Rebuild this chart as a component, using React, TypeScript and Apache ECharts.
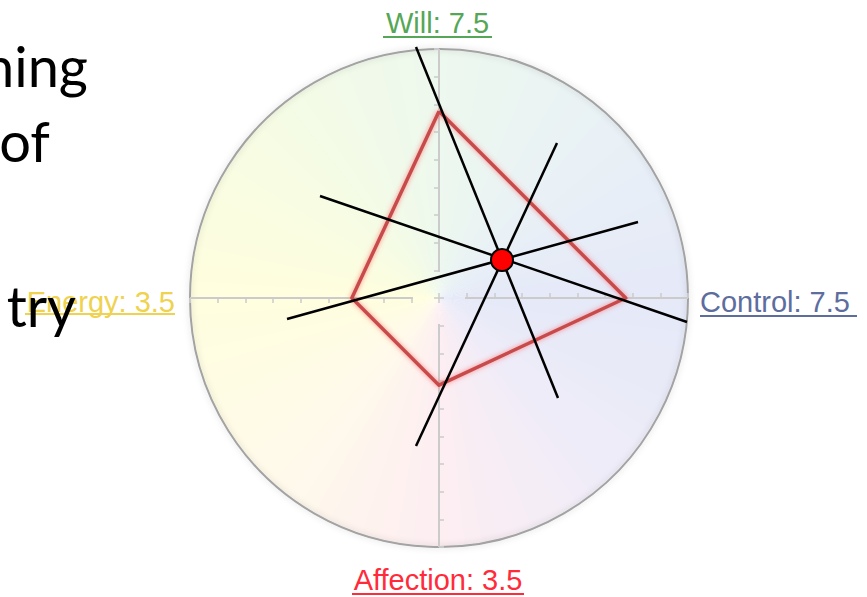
import React, { useEffect, useRef } from "react";
import * as echarts from "echarts";

// ---- data ----
const indicatorNames = ["Will", "Energy", "Affection", "Control"];
const indicatorValues = [7.5, 3.5, 3.5, 7.5];
const indicatorMax = 10;
const labelColors = ["#55a757", "#efd24e", "#ff2b3b", "#5d6d9e"];
const slideWords = ["hing", "of", "try"];

// ---- layout ----
const CX = 439;
const CY = 298;
const R = 249;

function lerp(a: number[], b: number[], t: number) {
  return a.map((v, i) => Math.round(v + (b[i] - v) * t));
}
// colour stops for background tint (math angle in degrees)
const tintStops: [number, number[]][] = [
  [0, [229, 233, 248]],
  [45, [233, 241, 246]],
  [90, [237, 248, 238]],
  [135, [246, 252, 228]],
  [180, [255, 254, 222]],
  [225, [255, 250, 234]],
  [270, [253, 238, 242]],
  [315, [238, 236, 248]],
  [360, [229, 233, 248]],
];
function tintAt(deg: number) {
  for (let i = 0; i < tintStops.length - 1; i++) {
    const [a0, c0] = tintStops[i];
    const [a1, c1] = tintStops[i + 1];
    if (deg >= a0 && deg <= a1) {
      const c = lerp(c0, c1, (deg - a0) / (a1 - a0));
      return `rgb(${c[0]},${c[1]},${c[2]})`;
    }
  }
  return "#fff";
}

export default function App() {
  const ref = useRef<HTMLDivElement>(null);
  useEffect(() => {
    if (!ref.current) return;
    const chart = echarts.init(ref.current, undefined, { renderer: "svg" });

    const graphics: any[] = [];
    // background tint
    const steps = 90;
    for (let i = 0; i < steps; i++) {
      const a0 = (i / steps) * Math.PI * 2;
      const a1 = ((i + 1) / steps) * Math.PI * 2 + 0.01;
      const mid = ((i + 0.5) / steps) * 360; // screen angle (clockwise)
      const mathDeg = (360 - mid) % 360;
      graphics.push({
        type: "sector",
        z: 0,
        silent: true,
        shape: { cx: CX, cy: CY, r: R, r0: 0, startAngle: a0, endAngle: a1 },
        style: { fill: tintAt(mathDeg) },
      });
    }
    // outer circle
    graphics.push({
      type: "circle",
      z: 1,
      silent: true,
      shape: { cx: CX, cy: CY, r: R },
      style: {
        fill: "none",
        stroke: "#a3a3a3",
        lineWidth: 2,
        shadowBlur: 6,
        shadowColor: "rgba(0,0,0,0.18)",
      },
    });
    // axis lines with gap at centre
    const gap = 26;
    [
      [1, 0],
      [-1, 0],
      [0, 1],
      [0, -1],
    ].forEach(([dx, dy]) => {
      graphics.push({
        type: "line",
        z: 1,
        silent: true,
        shape: { x1: CX + dx * gap, y1: CY + dy * gap, x2: CX + dx * R, y2: CY + dy * R },
        style: { stroke: "#cbcbcb", lineWidth: 2 },
      });
    });

    // labels with underline
    const labelPos = [
      { x: 437.5, y: 23, align: "center", ux1: 383, ux2: 492, uy: 37 },
      { x: 175, y: 302, align: "right", ux1: 25, ux2: 175, uy: 314 },
      { x: 438, y: 580, align: "center", ux1: 352, ux2: 524, uy: 594 },
      { x: 700, y: 302, align: "left", ux1: 700, ux2: 857, uy: 316 },
    ];
    indicatorNames.forEach((n, i) => {
      const p = labelPos[i];
      graphics.push({
        type: "text",
        z: 5,
        x: p.x,
        y: p.y,
        style: {
          text: `${n}: ${indicatorValues[i]}`,
          fill: labelColors[i],
          font: '29px "Liberation Sans", Arial, sans-serif',
          align: p.align,
          verticalAlign: "middle",
        },
      });
      graphics.push({
        type: "line",
        z: 5,
        shape: { x1: p.ux1, y1: p.uy, x2: p.ux2, y2: p.uy },
        style: { stroke: labelColors[i], lineWidth: 2 },
      });
    });

    // slide text fragments on the left
    const wordPos = [
      { x: 88, y: 93 },
      { x: 50, y: 168 },
      { x: 76, y: 333 },
    ];
    slideWords.forEach((w, i) => {
      graphics.push({
        type: "text",
        z: 20,
        x: wordPos[i].x,
        y: wordPos[i].y,
        style: {
          text: w,
          fill: "#000",
          font: '56px Lato, "Open Sans", sans-serif',
          align: "right",
          verticalAlign: "bottom",
          textBaseline: "alphabetic",
        },
      });
    });

    // black annotation lines through the red dot
    const lines = [
      [416, 47, 558, 398],
      [557, 143, 416, 446],
      [320, 196, 687, 322],
      [287, 319, 638, 222],
    ];
    lines.forEach(([x1, y1, x2, y2]) => {
      graphics.push({
        type: "line",
        z: 30,
        shape: { x1, y1, x2, y2 },
        style: { stroke: "#000", lineWidth: 2.5 },
      });
    });
    graphics.push({
      type: "circle",
      z: 31,
      shape: { cx: 502, cy: 260, r: 11 },
      style: { fill: "#ff0000", stroke: "#000", lineWidth: 2 },
    });

    chart.setOption({
      animation: false,
      backgroundColor: "#ffffff",
      radar: {
        z: 2,
        center: [CX, CY],
        radius: R,
        startAngle: 90,
        shape: "circle",
        splitNumber: 9,
        indicator: indicatorNames.map((n) => ({ name: n, min: 0, max: indicatorMax })),
        axisName: { show: false },
        axisLine: { show: false },
        axisTick: { show: true, length: 5, lineStyle: { color: "#cbcbcb", width: 1.5 } },
        axisLabel: { show: false },
        splitLine: { show: false },
        splitArea: { show: false },
      },
      graphic: graphics,
      series: [
        {
          type: "radar",
          z: 3,
          symbol: "none",
          lineStyle: {
            color: "#c84c4c",
            width: 3.5,
            shadowBlur: 5,
            shadowColor: "rgba(255,90,90,0.7)",
          },
          data: [{ value: indicatorValues }],
        },
      ],
    });
    return () => chart.dispose();
  }, []);
  return (
    <div
      ref={ref}
      style={{ position: "fixed", left: 0, top: 0, width: 867, height: 597 }}
    />
  );
}
